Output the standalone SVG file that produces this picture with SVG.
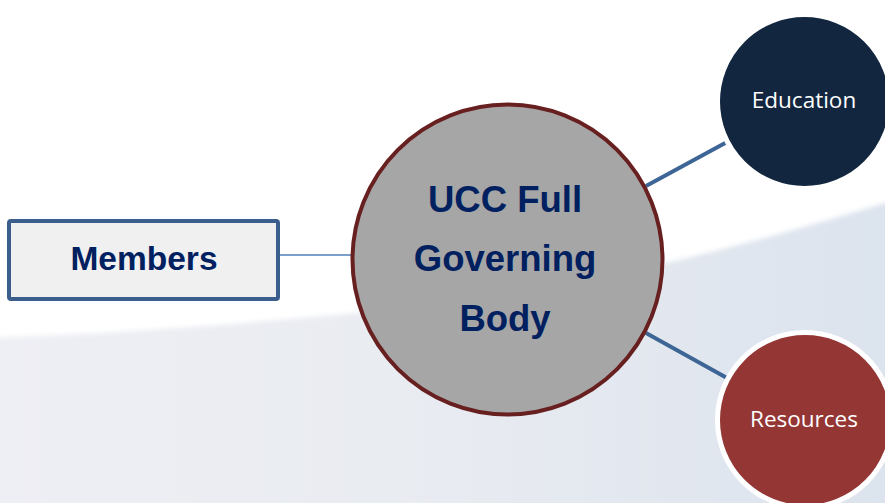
<svg xmlns="http://www.w3.org/2000/svg" width="885" height="503" viewBox="0 0 885 503">
  <defs>
    <linearGradient id="swooshFill" x1="0" y1="0" x2="1" y2="0">
      <stop offset="0" stop-color="#eeeff4"/>
      <stop offset="0.5" stop-color="#e8ebf1"/>
      <stop offset="1" stop-color="#dce3ee"/>
    </linearGradient>
    <filter id="soft" x="-5%" y="-10%" width="110%" height="120%">
      <feGaussianBlur stdDeviation="2.5"/>
    </filter>
  </defs>
  <style>
    .link { stroke: #3d6596; stroke-width: 4; fill: none; }
    .thin { stroke: #4f7fb8; stroke-width: 1.5; fill: none; }
    .title { font-family: "Liberation Sans", Arial, sans-serif; font-weight: bold; fill: #002060; text-anchor: middle; }
    .label { font-family: "Open Sans", "Liberation Sans", sans-serif; fill: #ffffff; text-anchor: middle; font-size: 22.5px; }
  </style>

  <!-- page background with a soft sweep -->
  <rect x="0" y="0" width="885" height="503" fill="#ffffff"/>
  <path d="M-10,338 C150,332 300,320 450,303 C600,284 760,242 895,200 L895,513 L-10,513 Z" fill="url(#swooshFill)" filter="url(#soft)"/>

  <!-- connectors -->
  <g id="connectors">
    <line class="thin" x1="280" y1="255" x2="352" y2="255"/>
    <line class="link" x1="646" y1="186" x2="727" y2="142"/>
    <line class="link" x1="646" y1="333" x2="727" y2="378"/>
  </g>

  <g id="members">
    <rect x="9" y="221" width="269" height="78" rx="2" fill="#f0f0f1" stroke="#3b5e8d" stroke-width="4"/>
    <text class="title" x="144" y="270" font-size="33.5">Members</text>
  </g>

  <g id="governing-body">
    <circle cx="507.5" cy="259.5" r="155" fill="#a6a6a6" stroke="#67201f" stroke-width="4"/>
    <text class="title" x="505" y="212" font-size="36.5">UCC Full</text>
    <text class="title" x="505" y="271" font-size="36.5">Governing</text>
    <text class="title" x="505" y="331" font-size="36.5">Body</text>
  </g>

  <g id="education">
    <circle cx="804.5" cy="101.5" r="87" fill="#12263f" stroke="#ffffff" stroke-width="5"/>
    <text class="label" x="804" y="108">Education</text>
  </g>

  <g id="resources">
    <circle cx="805" cy="420" r="87.5" fill="#943634" stroke="#ffffff" stroke-width="5"/>
    <text class="label" x="804" y="427">Resources</text>
  </g>
</svg>
